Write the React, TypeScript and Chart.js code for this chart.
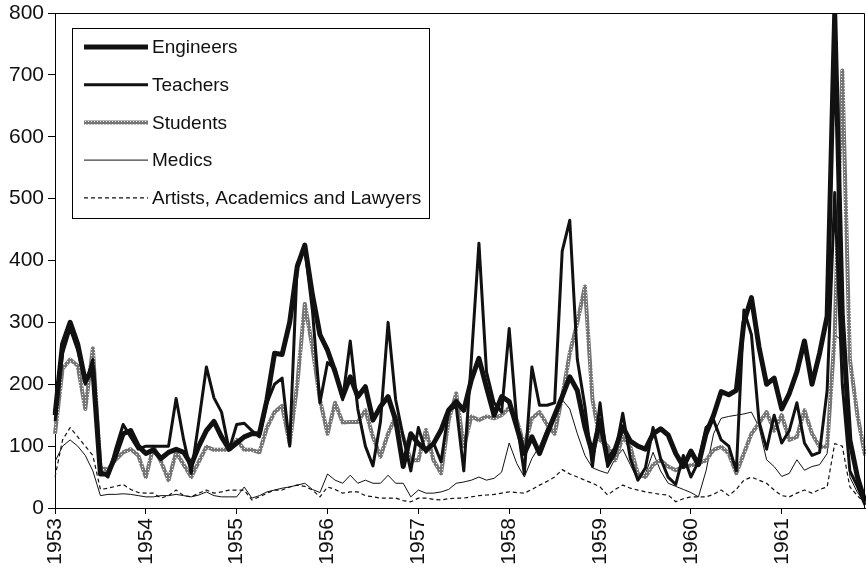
import React, { useEffect, useRef } from 'react';
import { Chart, registerables } from 'chart.js';

Chart.register(...registerables);

const YEARS = ['1953', '1954', '1955', '1956', '1957', '1958', '1959', '1960', '1961'];
const MONTH_NUMS = ['01', '02', '03', '04', '05', '06', '07', '08', '09', '10', '11', '12'];
const MONTHS = YEARS.flatMap((y) => MONTH_NUMS.map((m) => `${y}-${m}`));

const SERIES_NAMES = ['Engineers', 'Teachers', 'Students', 'Medics', 'Artists, Academics and Lawyers'];

const ENGINEERS = [
  150, 265, 300, 265, 205, 225, 55, 55, 85, 120, 125, 100,
  88, 94, 80, 90, 95, 90, 70, 100, 125, 140, 115, 95,
  105, 115, 120, 120, 175, 250, 248, 300, 390, 425, 345, 280,
  255, 220, 180, 212, 180, 196, 142, 164, 180, 142, 67, 120,
  104, 94, 104, 126, 158, 172, 158, 207, 242, 195, 150, 180,
  172, 131, 88, 115, 88, 120, 150, 180, 212, 190, 131, 88,
  142, 77, 95, 131, 108, 100, 95, 120, 128, 118, 88, 67,
  92, 70, 120, 150, 188, 183, 190, 300, 340, 260, 200, 210,
  160, 185, 220, 270, 200, 250, 310, 800, 310, 110, 50, 10,
];

const TEACHERS = [
  140, 250, 290, 255, 200, 240, 60, 50, 95, 135, 115, 95,
  100, 100, 100, 100, 177, 110, 56, 140, 228, 178, 155, 94,
  135, 137, 125, 115, 170, 200, 210, 100, 395, 420, 320, 170,
  235, 225, 175, 270, 160, 100, 68, 140, 300, 175, 115, 60,
  130, 90, 105, 75, 158, 164, 60, 240, 428, 220, 170, 155,
  290, 140, 55, 228, 166, 166, 170, 415, 465, 240, 164, 67,
  170, 67, 88, 153, 80, 45, 65, 130, 80, 50, 38, 85,
  50, 75, 130, 142, 110, 100, 60, 320, 280, 140, 95, 150,
  105, 125, 170, 105, 85, 90, 190, 510, 200, 60, 35, 5,
];

const STUDENTS = [
  120, 225, 240, 230, 160, 258, 65, 62, 78, 90, 95, 85,
  50, 99, 75, 45, 90, 70, 50, 75, 99, 94, 94, 94,
  110, 94, 94, 90, 130, 155, 165, 104, 200, 330, 260, 175,
  120, 170, 138, 139, 139, 158, 115, 83, 120, 148, 115, 77,
  77, 126, 77, 56, 142, 185, 99, 148, 142, 148, 145, 150,
  162, 142, 100, 145, 155, 135, 120, 180, 250, 300, 358, 175,
  110, 100, 77, 115, 99, 55, 50, 70, 77, 67, 61, 67,
  69, 72, 77, 94, 99, 88, 56, 88, 120, 137, 155, 125,
  150, 110, 115, 158, 120, 99, 99, 280, 707, 240, 150, 85,
];

const MEDICS = [
  75, 100, 110, 100, 85, 60, 20, 22, 22, 23, 22, 20,
  18, 18, 20, 20, 22, 20, 18, 21, 26, 20, 18, 18,
  18, 34, 16, 20, 26, 29, 32, 34, 37, 40, 30, 25,
  55, 45, 40, 53, 40, 45, 40, 40, 53, 40, 40, 18,
  29, 24, 24, 26, 30, 40, 42, 45, 50, 45, 48, 58,
  105, 72, 50, 80, 100, 130, 150, 175, 160, 120, 85, 65,
  60, 56, 80, 95, 70, 45, 55, 90, 60, 40, 35, 30,
  25, 18, 60, 120, 145, 148, 150, 152, 155, 131, 78, 67,
  51, 56, 78, 61, 67, 70, 88, 280, 270, 50, 25, 10,
];

const ARTISTS = [
  50, 110, 130, 115, 100, 85, 30, 32, 35, 38, 30, 25,
  24, 24, 16, 20, 29, 20, 18, 24, 29, 24, 26, 29,
  29, 29, 13, 18, 24, 29, 29, 34, 37, 35, 29, 18,
  34, 30, 24, 26, 26, 20, 18, 16, 16, 16, 12, 10,
  16, 16, 14, 13, 15, 16, 16, 18, 20, 21, 22, 24,
  26, 25, 24, 30, 37, 43, 50, 62, 55, 50, 45, 40,
  34, 21, 30, 37, 32, 29, 26, 24, 22, 21, 10, 15,
  18, 18, 18, 22, 29, 20, 30, 45, 50, 45, 40, 29,
  20, 18, 24, 29, 24, 30, 34, 104, 100, 34, 20, 8,
];

const FONT_FAMILY = "'Liberation Sans', Arial, Helvetica, sans-serif";
const TEXT_COLOR = '#111';

function makeStudentPattern(): CanvasPattern | string {
  const pc = document.createElement('canvas');
  pc.width = 3;
  pc.height = 3;
  const p = pc.getContext('2d');
  if (!p) return '#8a8a8a';
  p.fillStyle = '#767676';
  p.fillRect(0, 0, 3, 3);
  p.fillStyle = '#ececec';
  p.fillRect(1, 1, 1, 1);
  const pat = p.createPattern(pc, 'repeat');
  return pat || '#8a8a8a';
}

const framePlugin = {
  id: 'frame',
  afterDatasetsDraw(chart: any) {
    const { ctx, chartArea } = chart;
    ctx.save();
    ctx.strokeStyle = '#000';
    ctx.lineWidth = 1;
    ctx.beginPath();
    ctx.moveTo(Math.round(chartArea.left) + 0.5, Math.round(chartArea.top) + 0.5);
    ctx.lineTo(Math.round(chartArea.right) - 0.5, Math.round(chartArea.top) + 0.5);
    ctx.lineTo(Math.round(chartArea.right) - 0.5, Math.round(chartArea.bottom));
    ctx.stroke();
    ctx.restore();
  },
};

const boxLegendPlugin = {
  id: 'boxLegend',
  afterDraw(chart: any) {
    const { ctx, chartArea } = chart;
    const datasets = chart.data.datasets;
    const boxLeft = chartArea.left + 17;
    const boxTop = chartArea.top + 15;
    const firstY = boxTop + 19;
    const step = 37.7;
    const lineX0 = boxLeft + 12;
    const lineX1 = boxLeft + 76;
    const textX = boxLeft + 80;
    ctx.save();
    ctx.font = `19px ${FONT_FAMILY}`;
    let maxW = 0;
    datasets.forEach((d: any) => {
      maxW = Math.max(maxW, ctx.measureText(d.label).width);
    });
    const boxRight = textX + maxW + 8;
    const boxBottom = firstY + step * (datasets.length - 1) + 20;
    ctx.fillStyle = '#fff';
    ctx.fillRect(boxLeft, boxTop, boxRight - boxLeft, boxBottom - boxTop);
    ctx.strokeStyle = '#000';
    ctx.lineWidth = 1;
    ctx.strokeRect(Math.round(boxLeft) + 0.5, Math.round(boxTop) + 0.5, Math.round(boxRight - boxLeft), Math.round(boxBottom - boxTop));
    datasets.forEach((d: any, i: number) => {
      const y = firstY + step * i;
      ctx.save();
      ctx.strokeStyle = d.borderColor;
      ctx.lineWidth = d.borderWidth;
      ctx.setLineDash(d.borderDash || []);
      ctx.lineCap = 'butt';
      ctx.beginPath();
      ctx.moveTo(lineX0, y);
      ctx.lineTo(lineX1, y);
      ctx.stroke();
      ctx.restore();
      ctx.fillStyle = TEXT_COLOR;
      ctx.textBaseline = 'middle';
      ctx.textAlign = 'left';
      ctx.fillText(d.label, textX, y + 1);
    });
    ctx.restore();
  },
};

export default function App() {
  const canvasRef = useRef<HTMLCanvasElement | null>(null);

  useEffect(() => {
    document.body.style.margin = '0';
    const canvas = canvasRef.current;
    if (!canvas) return;
    const studentPattern = makeStudentPattern();

    const chart = new Chart(canvas, {
      type: 'line',
      data: {
        labels: MONTHS,
        datasets: [
          { label: SERIES_NAMES[0], data: ENGINEERS, borderColor: '#111', borderWidth: 5 },
          { label: SERIES_NAMES[1], data: TEACHERS, borderColor: '#111', borderWidth: 3 },
          { label: SERIES_NAMES[2], data: STUDENTS, borderColor: studentPattern as any, borderWidth: 4 },
          { label: SERIES_NAMES[3], data: MEDICS, borderColor: '#111', borderWidth: 1 },
          { label: SERIES_NAMES[4], data: ARTISTS, borderColor: '#111', borderWidth: 1.2, borderDash: [4, 3] },
        ].map((d) => ({
          ...d,
          pointRadius: 0,
          pointHoverRadius: 0,
          tension: 0,
          fill: false,
          borderJoinStyle: 'round' as const,
        })),
      },
      options: {
        animation: false,
        responsive: true,
        maintainAspectRatio: false,
        layout: { padding: { top: 13, right: 1, left: 0, bottom: 0 } },
        plugins: {
          legend: { display: false },
          tooltip: { enabled: false },
        },
        events: [],
        scales: {
          x: {
            type: 'category',
            offset: false,
            afterFit: (s: any) => {
              s.height = 60;
              s.paddingLeft = 0;
              s.paddingRight = 0;
            },
            border: { display: true, color: '#000', width: 1 },
            grid: {
              display: true,
              drawOnChartArea: false,
              drawTicks: true,
              tickLength: 6,
              tickWidth: 1,
              tickColor: (c: any) => (c.index % 12 === 0 ? '#000' : 'rgba(0,0,0,0)'),
            },
            ticks: {
              autoSkip: false,
              maxRotation: 90,
              minRotation: 90,
              padding: 4,
              color: TEXT_COLOR,
              font: { family: FONT_FAMILY, size: 21 },
              callback: (_v: any, index: number) => (index % 12 === 0 ? YEARS[index / 12] : ''),
            },
          },
          y: {
            min: 0,
            max: 800,
            afterFit: (s: any) => {
              s.width = 55;
              s.paddingTop = 0;
              s.paddingBottom = 0;
            },
            border: { display: true, color: '#000', width: 1 },
            grid: {
              display: true,
              drawOnChartArea: false,
              drawTicks: true,
              tickLength: 7,
              tickColor: '#000',
            },
            ticks: {
              stepSize: 100,
              padding: 4,
              color: TEXT_COLOR,
              font: { family: FONT_FAMILY, size: 21 },
            },
          },
        },
      },
      plugins: [framePlugin, boxLegendPlugin],
    });

    return () => {
      chart.destroy();
    };
  }, []);

  return (
    <div style={{ width: 866, height: 568, position: 'relative' }}>
      <canvas ref={canvasRef} />
    </div>
  );
}
